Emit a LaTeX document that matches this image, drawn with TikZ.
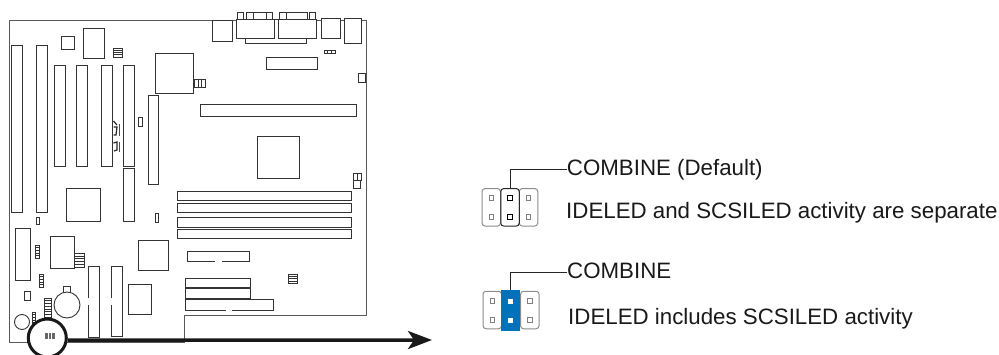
\documentclass[tikz,border=0pt]{standalone}
\usepackage{fontspec}
\setmainfont{Liberation Sans}
\usetikzlibrary{arrows.meta}
\definecolor{jumperblue}{HTML}{0072BC}
\tikzstyle{part}=[draw=black!80, fill=white, line width=0.9pt]
\tikzstyle{stripe}=[draw=black!80, line width=0.6pt]
\tikzstyle{jumper}=[draw=black!45, line width=1pt, rounded corners=3pt, inner sep=0pt, minimum width=18.5pt, minimum height=37.5pt]
\tikzstyle{jumperon}=[jumper, draw=black!85]
\tikzstyle{jumperfill}=[fill=jumperblue, inner sep=0pt, minimum width=19pt, minimum height=41pt]
\tikzstyle{pin}=[draw=black!50, fill=white, line width=1pt, inner sep=0pt, minimum size=4.4pt]
\tikzstyle{pinon}=[pin, draw=black]
\tikzstyle{pinblue}=[fill=white, inner sep=0pt, minimum size=5pt]
\tikzstyle{leader}=[draw=black!85, line width=1pt]
\tikzstyle{caption}=[inner sep=0pt, anchor=base west, text height=16pt, text depth=4.6pt, text=black!90, font=\fontsize{22.3}{24}\selectfont]
\begin{document}
\begin{tikzpicture}[x=1pt, y=-1pt]
    \useasboundingbox (0, 0) rectangle (999, 354);
    % board outline
    \draw[draw=black!65, line width=1pt] (9.5, 342) -- (9.5, 20) -- (366, 20) -- (366, 315) -- (184, 315) -- (184, 342) -- cycle;
    % expansion slots
    \foreach \xa/\xb/\ya/\yb in {11/22/45/212, 36/47/45/212, 54/65/65/166.5, 76/87/65/166.5, 101/112/65/166.5,
        123.5/134.5/65/166.5, 123.5/134.5/168/221, 148/158.5/95/184.5, 88.5/99.5/266.5/337, 111.5/122/266.5/336.5,
        15.5/30.5/228.5/280, 200.5/356.5/104/116, 266.5/317.5/57.5/69.5,
        177.5/351.5/191/200.5, 177.5/351.5/203/212.5, 177.5/351.5/217.5/227, 177.5/351.5/229/238.5,
        187/249.5/251.5/261, 185.5/250/278/287.5, 185.5/250/288/298, 185.5/273/299/310}
        \draw[part] (\xa, \ya) rectangle (\xb, \yb);
    % chips
    \foreach \xa/\xb/\ya/\yb in {61.5/74/36/49, 83.5/104.5/28/58, 155/193.5/53/93, 257.5/299/136/178,
        66/100/188/221, 50/74/236.5/268, 138.5/168.5/240/270, 128.5/151.5/284.5/314.5,
        138.5/142/117/126, 36.5/39.5/217/224, 155/158/213/222, 24/30.5/291.5/300,
        358.5/365/73.5/82, 353.5/360.5/180/188}
        \draw[part] (\xa, \ya) rectangle (\xb, \yb);
    % back panel
    \foreach \xa/\xb/\ya/\yb in {237.5/243.5/12.5/19, 246/253/12.5/19, 253/266/12.5/19, 266.5/272.5/12.5/19,
        279.5/286/12.5/19, 286/307/12.5/19, 309/315/12.5/19,
        212.5/232.5/20/41, 245.5/306.5/19/43.5, 236.5/274/19/38, 278/316/19/38,
        321.5/340/18.5/38.5, 344/361.5/18.5/43}
        \draw[part] (\xa, \ya) rectangle (\xb, \yb);
    % breaks in the slot edges
    \foreach \xa/\xb/\ya/\yb in {87.5/90/298/305, 110.5/113/298/305}
        \fill[white] (\xa, \ya) rectangle (\xb, \yb);
    \foreach \xa/\xb/\ya/\yb in {215/221.5/260/262, 226/232/309/311}
        \fill[white] (\xa, \ya) rectangle (\xb, \yb);
    % headers with stripes across
    \foreach \xa/\xb/\ya/\yb/\n in {113.5/122.5/48/57/3, 288.5/297.5/274/283.5/3, 35/39/245/258/4,
        74/84/253/267/4, 39.5/43.5/274/287/4, 44.5/51.5/298/320/7, 32.5/35/312/325/4}{
        \draw[part] (\xa, \ya) rectangle (\xb, \yb);
        \foreach \i in {1, ..., \n}
            \draw[stripe] (\xa, {\ya+(\yb-\ya)*\i/(\n+1)}) -- (\xb, {\ya+(\yb-\ya)*\i/(\n+1)});
    }
    % headers with stripes along
    \foreach \xa/\xb/\ya/\yb/\n in {194.5/205/79/87/2, 324/335/50/53.5/2, 353.5/361/173/180/1}{
        \draw[part] (\xa, \ya) rectangle (\xb, \yb);
        \foreach \i in {1, ..., \n}
            \draw[stripe] ({\xa+(\xb-\xa)*\i/(\n+1)}, \ya) -- ({\xa+(\xb-\xa)*\i/(\n+1)}, \yb);
    }
    % small marks beside the last slot
    \draw[black!85, line width=1.2pt] (113.5, 121) -- (117, 125) (113.5, 127) -- (117, 127) -- (116, 135) -- (113.5, 135)
        (113.5, 143) -- (117, 142) -- (117, 150) -- (114, 151);
    \draw[black!70, line width=0.7pt] (119.5, 124) -- (119.5, 136) (119.5, 142) -- (119.5, 152);
    % battery and round parts
    \draw[part] (63.5, 286.5) rectangle (70.5, 293);
    \draw[part] (67, 305) circle (13);
    \draw[part] (22, 322) circle (7.5);
    \node[circle, draw=black!90, fill=white, line width=3pt, inner sep=0pt, minimum size=38pt] (mark) at (47.3, 338) {};
    \fill[black!60] (44.5, 333) rectangle (54.5, 339);
    \foreach \x in {47.8, 51.2}
        \draw[white, line width=0.6pt] (\x, 333) -- (\x, 339);
    % pointer
    \coordinate (tip) at (432, 340);
    \draw[black!90, line width=3.5pt, -{Stealth[length=24pt, width=18pt, inset=6pt]}] (mark.-6) -- (tip);
    % upper jumper
    \node[jumper]   (J1a) at (491.3, 207.3) {};
    \node[jumper]   (J1c) at (528.5, 207.3) {};
    \node[jumperon] (J1b) at (510, 207.3) {};
    \foreach \pinx/\pinname in {491.3/a, 528.5/c} {
        \node[pin] (P1\pinname t) at (\pinx, 198) {};
        \node[pin] (P1\pinname b) at (\pinx, 217) {};
    }
    \node[pinon] (P1bt) at (510, 198) {};
    \node[pinon] (P1bb) at (510, 217) {};
    \node[caption] (L1) at (566.7, 175) {COMBINE (Default)};
    \node[caption] (T1) at (566, 218.3) {IDELED and SCSILED activity are separate};
    \draw[leader] (J1b.north) |- (L1.west);
    % lower jumper
    \node[jumper]     (J2a) at (492.3, 310) {};
    \node[jumper]     (J2c) at (529.8, 310) {};
    \node[jumperfill] (J2b) at (510.5, 310.5) {};
    \foreach \pinx/\pinname in {492.3/a, 529.8/c} {
        \node[pin] (P2\pinname t) at (\pinx, 301) {};
        \node[pin] (P2\pinname b) at (\pinx, 320) {};
    }
    \node[pinblue] (P2bt) at (510.5, 301) {};
    \node[pinblue] (P2bb) at (510.5, 320) {};
    \node[caption] (L2) at (567, 278) {COMBINE};
    \node[caption] (T2) at (568, 324) {IDELED includes SCSILED activity};
    \draw[leader] (J2b.north) |- (L2.west);
\end{tikzpicture}
\end{document}
